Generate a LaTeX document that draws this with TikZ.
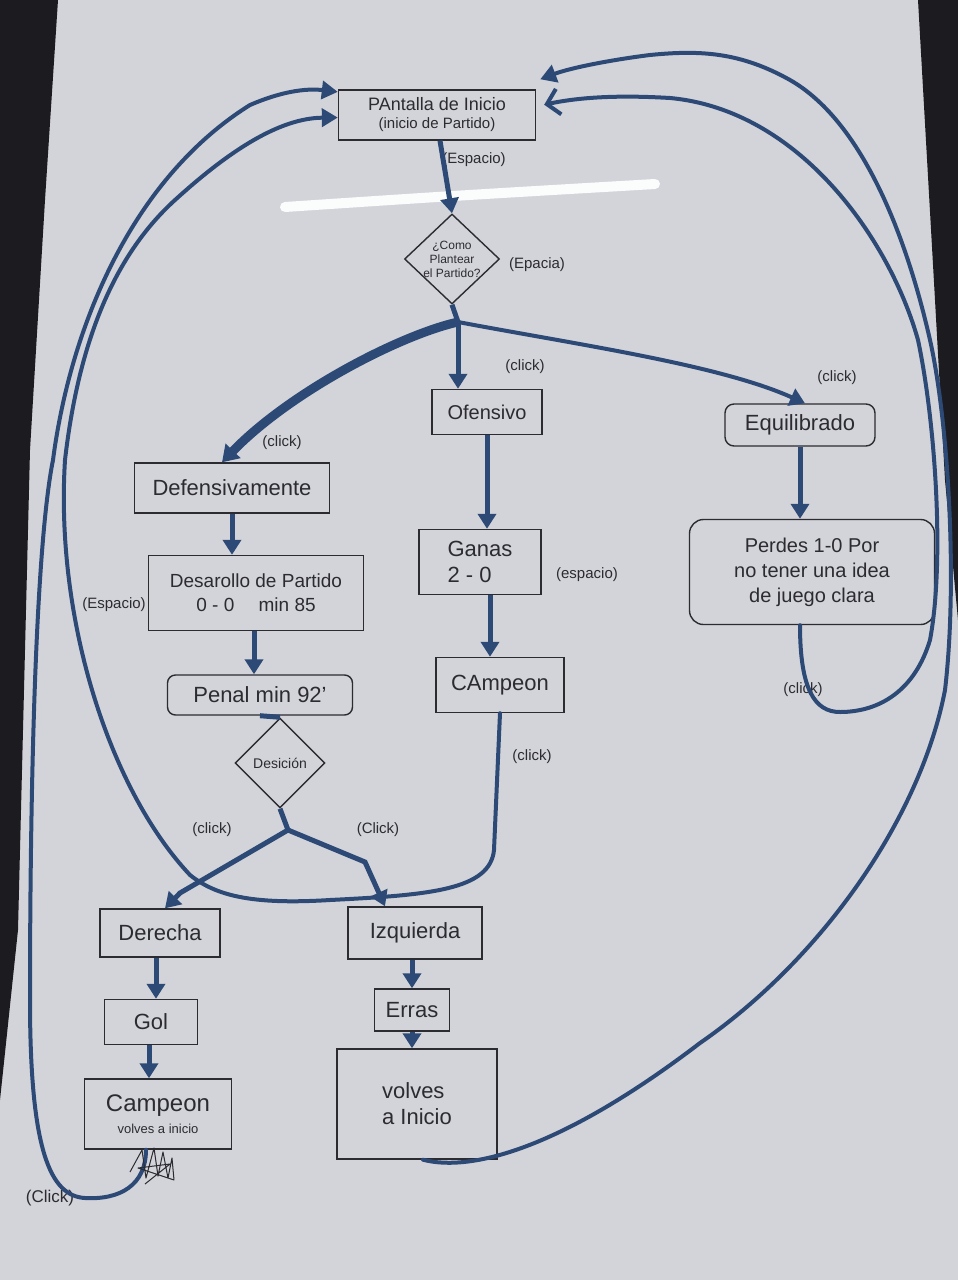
\documentclass[tikz,border=0pt]{standalone}
\usepackage{fontspec}
\setmainfont{Liberation Sans}
\usetikzlibrary{shapes.geometric,arrows.meta,calc}
\definecolor{ink}{HTML}{2D4A76}
\definecolor{paper}{HTML}{D3D4DA}
\definecolor{pen}{HTML}{2B2B30}
\definecolor{edge}{HTML}{1B1B20}
\begin{document}
\begin{tikzpicture}[x=1pt,y=-1pt,
  box/.style={draw=pen,line width=1.4pt,align=center,inner sep=2pt,text=pen,font=\fontsize{22}{26}\selectfont},
  dia/.style={draw=pen,line width=1.4pt,diamond,aspect=1,align=center,text=pen},
  lab/.style={text=pen,font=\fontsize{15}{17}\selectfont},
  flow/.style={draw=ink,line width=5pt,-{Triangle[length=15pt,width=18pt]}},
  link/.style={draw=ink,line width=5pt},
  back/.style={draw=ink,line width=4pt,line cap=round,-{Triangle[length=16pt,width=18pt]}},
  openback/.style={draw=ink,line width=4pt,line cap=round,-{Straight Barb[length=12pt,width=26pt,line width=4pt]}}]
% paper and photo edges
\fill[paper] (0,0) rectangle (958,1280);
\useasboundingbox (0,0) rectangle (958,1280);
\fill[edge] (0,0) -- (58,0) -- (45,200) -- (30,450) -- (18,930) -- (0,1100) -- cycle;
\fill[edge] (918,0) -- (958,0) -- (958,620) -- (945,480) -- (935,300) -- cycle;
\draw[white!92!paper,line width=10pt,line cap=round] (285,207) .. controls (450,196) .. (655,184);

% nodes
\node[box,minimum width=197pt,minimum height=50pt,font=\fontsize{18}{20}\selectfont] (pant) at (437,115) {PAntalla de Inicio\\[-2pt]{\fontsize{15}{17}\selectfont (inicio de Partido)}};
\node[dia,minimum width=95pt,minimum height=90pt,inner sep=-5pt,font=\fontsize{12}{14}\selectfont] (diam) at (452,259) {¿Como\\Plantear\\el Partido?};
\node[box,minimum width=110pt,minimum height=45pt,font=\fontsize{20}{24}\selectfont] (of) at (487,412) {Ofensivo};
\node[box,minimum width=150pt,minimum height=42pt,rounded corners=9pt] (eq) at (800,425) {Equilibrado};
\node[box,minimum width=195pt,minimum height=50pt] (def) at (232,488) {Defensivamente};
\node[box,minimum width=215pt,minimum height=75pt,font=\fontsize{19}{24}\selectfont] (des) at (256,593) {Desarollo de Partido\\0 - 0 \quad min 85};
\node[box,minimum width=185pt,minimum height=40pt,rounded corners=8pt] (pen) at (260,695) {Penal min 92'};
\node[dia,minimum width=90pt,minimum height=90pt,inner sep=0pt,font=\fontsize{14}{16}\selectfont] (desi) at (280,763) {Desición};
\node[box,minimum width=122pt,minimum height=65pt,align=left] (gan) at (480,562) {Ganas\\2 - 0};
\node[box,minimum width=128pt,minimum height=55pt] (camp) at (500,685) {CAmpeon};
\node[box,minimum width=245pt,minimum height=105pt,rounded corners=14pt,font=\fontsize{20}{25}\selectfont] (perd) at (812,572) {Perdes 1-0 Por\\no tener una idea\\de juego clara};
\node[box,minimum width=120pt,minimum height=48pt] (der) at (160,933) {Derecha};
\node[box,minimum width=134pt,minimum height=52pt] (izq) at (415,933) {Izquierda};
\node[box,minimum width=93pt,minimum height=45pt] (gol) at (151,1022) {Gol};
\node[box,minimum width=75pt,minimum height=42pt] (err) at (412,1010) {Erras};
\node[box,minimum width=147pt,minimum height=70pt,font=\fontsize{24}{26}\selectfont] (campv) at (158,1114) {Campeon\\[-4pt]{\fontsize{13}{15}\selectfont volves a inicio}};
\node[box,minimum width=160pt,minimum height=110pt,align=left] (voli) at (417,1104) {volves\\a Inicio};

% labels
\node[lab] (l1) at (474,160) {(Espacio)};
\node[lab] (l2) at (537,265) {(Epacia)};
\node[lab] (l3) at (525,367) {(click)};
\node[lab] (l4) at (837,378) {(click)};
\node[lab] (l5) at (282,443) {(click)};
\node[lab] (l6) at (114,605) {(Espacio)};
\node[lab] (l7) at (587,575) {(espacio)};
\node[lab] (l8) at (532,757) {(click)};
\node[lab] (l9) at (803,690) {(click)};
\node[lab] (l10) at (212,830) {(click)};
\node[lab] (l11) at (378,830) {(Click)};
\node[lab,font=\fontsize{17}{19}\selectfont] (l12) at (50,1198) {(Click)};

% main flow
\draw[flow] ([xshift=3pt]pant.south) -- (diam.north);
\coordinate (fork) at (458,322);
\draw[link] (diam.south) -- (fork);
\draw[flow] (fork) -- (fork |- of.north);
\draw[draw=ink,line width=9pt,-{Triangle[length=16pt,width=20pt]}] (fork) .. controls (400,335) and (290,392) .. ([xshift=-10pt]def.north);
\draw[flow,line width=4pt] (fork) .. controls (580,345) and (720,365) .. ([xshift=5pt]eq.north);
\draw[flow] (def.south) -- (def.south |- des.north);
\draw[flow] ([xshift=-6pt]pen.north |- des.south) -- ([xshift=-6pt]pen.north);
\draw[link] (pen.south) -- (desi.north);
\coordinate (dfork) at (288,830);
\draw[link] (desi.south) -- (dfork);
\draw[flow] (dfork) -- (180,893) -- ([xshift=5pt]der.north);
\draw[flow] (dfork) -- (365,862) -- ([xshift=-30pt]izq.north);
\draw[flow] ([xshift=-4pt]der.south) -- ([xshift=-4pt]der.south |- gol.north);
\draw[flow] ([xshift=-2pt]gol.south) -- ([xshift=-2pt]gol.south |- campv.north);
\draw[flow] (err.north |- izq.south) -- (err.north);
\draw[flow] (err.south) -- (err.south |- voli.north);
\draw[flow] (of.south) -- (of.south |- gan.north);
\draw[flow] ([xshift=10pt]gan.south) -- ([xshift=10pt]gan.south |- camp.north);
\draw[flow] (eq.south) -- (eq.south |- perd.north);

% returns to the start screen
\draw[back] (camp.south) -- (494,850) .. controls (490,890) and (430,895) .. (330,900)
  .. controls (250,905) and (215,895) .. (190,875) .. controls (110,790) and (55,620) .. (65,460)
  .. controls (80,330) and (120,250) .. (175,200) .. controls (230,150) and (280,118) .. ($(pant.north west)!0.55!(pant.south west)$);
\draw[back] ([xshift=-12pt]campv.south) .. controls (146,1185) and (120,1200) .. (85,1198)
  .. controls (50,1196) and (30,1150) .. (30,1000) .. controls (30,800) and (35,550) .. (53,460)
  .. controls (70,330) and (130,180) .. (250,105) .. controls (280,92) and (305,88) .. ($(pant.north west)!0.05!(pant.south west)$);
\draw[openback] ([xshift=-12pt]perd.south) .. controls (800,690) and (815,712) .. (840,712)
  .. controls (880,712) and (915,690) .. (930,640) .. controls (945,560) and (935,420) .. (918,340)
  .. controls (890,240) and (800,110) .. (670,98) .. controls (620,95) and (580,97) .. ([xshift=8pt]$(pant.north east)!0.3!(pant.south east)$);
\draw[back] ([xshift=6pt]voli.south) .. controls (470,1172) and (560,1150) .. (700,1043)
  .. controls (820,960) and (920,820) .. (945,690) .. controls (958,580) and (948,420) .. (930,340)
  .. controls (905,230) and (860,120) .. (790,80) .. controls (740,52) and (700,50) .. (650,55)
  .. controls (610,60) and (570,68) .. ([xshift=4pt,yshift=10pt]pant.north east);

% scribble under the champion box
\draw[pen,line width=1pt,line join=round] (130,1172) -- (142,1150) -- (146,1178) -- (154,1148) -- (158,1176) -- (163,1152) -- (168,1178) -- (172,1158) -- (174,1180) -- (138,1168) -- (170,1164) -- (145,1184);
\end{tikzpicture}
\end{document}
